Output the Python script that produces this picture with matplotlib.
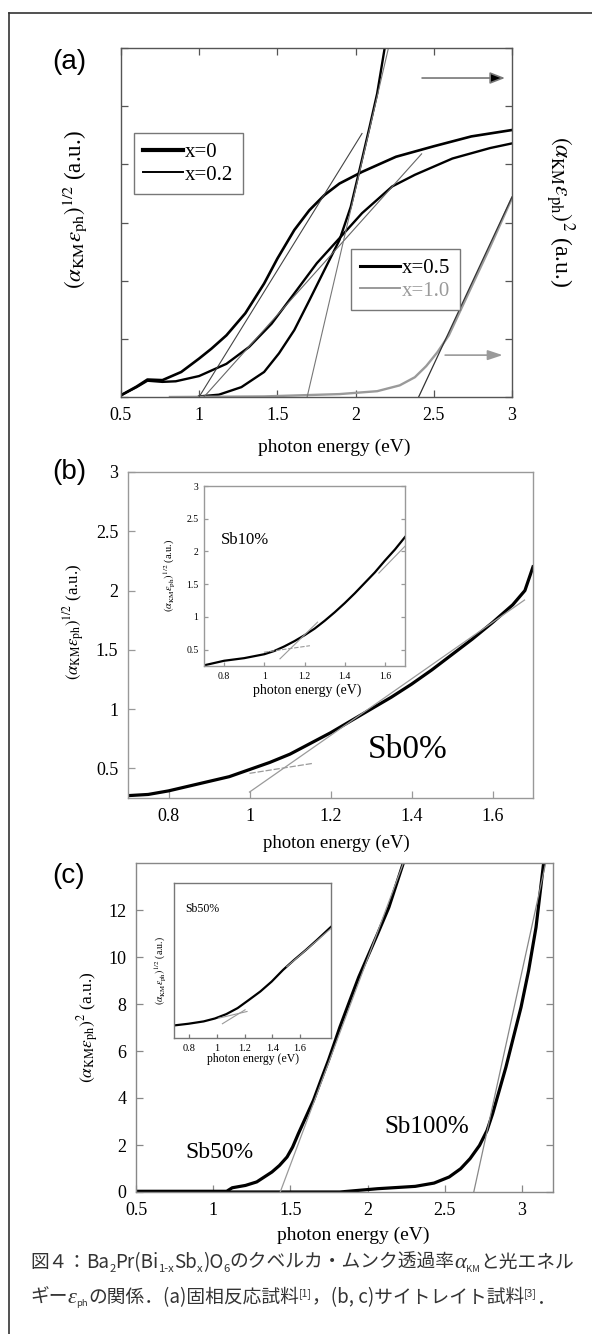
import matplotlib
matplotlib.use("Agg")
import matplotlib.pyplot as plt
from matplotlib.lines import Line2D
from matplotlib.ticker import FormatStrFormatter
from matplotlib.transforms import IdentityTransform

plt.rcParams["font.family"] = ["Liberation Serif", "DejaVu Serif"]
plt.rcParams["mathtext.fontset"] = "stix"
plt.rcParams["axes.unicode_minus"] = False

W, H = 592, 1334
CJK = ["Noto Sans CJK JP", "DejaVu Sans"]
GRAY = "#9a9a9a"

# ---- panel (a): four compositions, x = photon energy (eV) ----
a_x0 = [0.5, 0.6, 0.669, 0.765, 0.885, 0.999, 1.078, 1.174, 1.295, 1.415, 1.5, 1.608,
        1.704, 1.80, 1.897, 2.041, 2.258, 2.499, 2.74, 3.0]
a_y0 = [0.03, 0.18, 0.30, 0.29, 0.43, 0.66, 0.83, 1.06, 1.44, 1.95, 2.38, 2.87,
        3.21, 3.47, 3.67, 3.87, 4.13, 4.31, 4.48, 4.59]
a_x02 = [0.5, 0.6, 0.669, 0.765, 0.85, 0.999, 1.174, 1.319, 1.463, 1.608, 1.752, 1.897,
         2.041, 2.234, 2.379, 2.619, 2.86, 3.0]
a_y02 = [0.03, 0.17, 0.28, 0.26, 0.27, 0.36, 0.57, 0.86, 1.26, 1.78, 2.30, 2.73,
         3.16, 3.62, 3.82, 4.10, 4.28, 4.36]
a_x05 = [0.999, 1.126, 1.27, 1.415, 1.51, 1.608, 1.704, 1.80, 1.897, 1.969, 2.03,
         2.09, 2.138, 2.186]
a_y05 = [0.01, 0.04, 0.17, 0.43, 0.75, 1.15, 1.66, 2.18, 2.70, 3.27, 3.96,
         4.65, 5.22, 6.0]
a_x10 = [0.813, 1.415, 1.897, 2.138, 2.282, 2.379, 2.451, 2.523, 2.596, 2.74, 2.86, 3.0]
a_y10 = [0.0, 0.01, 0.05, 0.10, 0.20, 0.34, 0.53, 0.77, 1.06, 1.89, 2.58, 3.42]
# tangent (fit) lines: (x1, x2), (y1, y2)
a_fit0 = ([0.999, 2.041], [0.0, 4.53])
a_fit02 = ([1.03, 2.422], [0.0, 4.18])
a_fit05 = ([1.69, 2.21], [0.0, 6.0])
a_fit10 = ([2.403, 3.0], [0.0, 3.44])
a_xticks = [0.5, 1, 1.5, 2, 2.5, 3]

# ---- panel (b): Sb0% main, Sb10% inset ----
b_x = [0.70, 0.75, 0.80, 0.85, 0.90, 0.95, 1.0, 1.05, 1.10, 1.15, 1.20, 1.25,
       1.30, 1.35, 1.40, 1.45, 1.50, 1.55, 1.60, 1.65, 1.68, 1.70]
b_y = [0.27, 0.28, 0.31, 0.35, 0.39, 0.43, 0.49, 0.55, 0.62, 0.71, 0.80, 0.90,
       1.00, 1.10, 1.21, 1.33, 1.46, 1.59, 1.73, 1.88, 2.00, 2.20]
b_fit = ([1.0, 1.679], [0.30, 1.92])
b_base = ([1.0, 1.156], [0.458, 0.542])
bi_x = [0.70, 0.80, 0.90, 1.0, 1.05, 1.10, 1.15, 1.20, 1.25, 1.30, 1.35, 1.40,
        1.45, 1.50, 1.55, 1.60, 1.65, 1.70]
bi_y = [0.26, 0.33, 0.37, 0.43, 0.48, 0.55, 0.63, 0.72, 0.82, 0.94, 1.07, 1.21,
        1.36, 1.52, 1.68, 1.86, 2.03, 2.22]
bi_fit = ([1.078, 1.265], [0.36, 0.92])
bi_fit2 = ([1.57, 1.70], [1.67, 2.08])
bi_base = ([0.998, 1.227], [0.46, 0.56])

# ---- panel (c): Sb50% and Sb100% main, Sb50% inset ----
c_x50 = [0.5, 1.087, 1.123, 1.209, 1.282, 1.331, 1.38, 1.429, 1.478, 1.514, 1.551,
         1.6, 1.649, 1.697, 1.746, 1.783, 1.82, 1.881, 1.942, 2.003, 2.064, 2.137, 2.23]
c_y50 = [0.03, 0.03, 0.18, 0.28, 0.43, 0.64, 0.85, 1.13, 1.49, 1.91, 2.48,
         3.19, 3.90, 4.75, 5.60, 6.30, 7.01, 8.08, 9.14, 10.06, 10.98, 12.11, 13.98]
c_x100 = [0.5, 1.82, 2.064, 2.308, 2.43, 2.528, 2.602, 2.663, 2.724, 2.773, 2.809,
          2.846, 2.895, 2.944, 2.993, 3.042, 3.09, 3.139]
c_y100 = [0.0, 0.0, 0.14, 0.24, 0.38, 0.64, 0.99, 1.42, 1.98, 2.62, 3.33,
          4.18, 5.31, 6.59, 7.86, 9.42, 11.26, 13.98]
c_fit50 = ([1.434, 2.23], [0.0, 13.98])
c_fit100 = ([2.687, 3.152], [0.0, 13.98])
ci_x = [0.69, 0.795, 0.904, 0.986, 1.068, 1.15, 1.232, 1.314, 1.396, 1.478,
        1.56, 1.642, 1.723, 1.825]
ci_y = [0.081, 0.092, 0.107, 0.126, 0.154, 0.193, 0.246, 0.30, 0.364, 0.439,
        0.505, 0.567, 0.632, 0.717]
ci_fit = ([1.04, 1.204], [0.092, 0.182])
ci_base = ([1.013, 1.218], [0.128, 0.171])
ci_fit2 = ([1.505, 1.825], [0.46, 0.707])


def box(l, t, r, b):
    """native pixel box -> figure fraction rect"""
    return [l / W, 1 - b / H, (r - l) / W, (b - t) / H]


def fxy(x, y):
    return x / W, 1 - y / H


def style_ax(ax, color, size, sides):
    for s in ax.spines.values():
        s.set_color(color)
        s.set_linewidth(1.0)
    ax.tick_params(direction="in", colors="black", labelsize=size, length=5, width=0.9,
                   pad=7, **sides)
    ax.tick_params(color=color)
    ax.xaxis.set_major_formatter(FormatStrFormatter("%g"))
    ax.yaxis.set_major_formatter(FormatStrFormatter("%g"))


fig = plt.figure(figsize=(W / 100, H / 100), dpi=100)

# outer frame (left and top edges visible)
fig.add_artist(Line2D([9, 9], [H - 13, 0], transform=IdentityTransform(), color="#333", lw=1.2))
fig.add_artist(Line2D([9, W], [H - 13, H - 13], transform=IdentityTransform(), color="#333", lw=1.2))

# ================= (a) =================
ax = fig.add_axes(box(121, 48, 512, 397))
ax.plot(a_x0, a_y0, color="black", lw=1.9)
ax.plot(a_x02, a_y02, color="black", lw=1.7)
ax.plot(a_x05, a_y05, color="black", lw=1.7)
ax.plot(a_x10, a_y10, color=GRAY, lw=1.7)
ax.plot(*a_fit0, color="#444", lw=0.8)
ax.plot(*a_fit02, color="#666", lw=0.8)
ax.plot(*a_fit05, color="#777", lw=0.8)
ax.plot(*a_fit10, color="#333", lw=0.9)
ax.set_xlim(0.5, 3)
ax.set_ylim(0, 6)
ax.set_xticks(a_xticks)
ax.set_yticks(range(7))
style_ax(ax, "#555", 13, dict(top=True, right=True))
ax.set_yticklabels([])
leg1 = ax.legend([Line2D([], [], color="black", lw=3.0), Line2D([], [], color="black", lw=1.4)],
                 ["x=0", "x=0.2"], loc="upper left", bbox_to_anchor=fxy(134, 133),
                 bbox_transform=fig.transFigure, borderaxespad=0, fontsize=15, handlelength=1.9,
                 handletextpad=0.1, labelspacing=0.15, borderpad=0.45, fancybox=False,
                 framealpha=1, edgecolor="#777")
leg1.get_frame().set_linewidth(1.0)
ax.add_artist(leg1)
leg2 = ax.legend([Line2D([], [], color="black", lw=2.2), Line2D([], [], color=GRAY, lw=1.4)],
                 ["x=0.5", "x=1.0"], loc="upper left", bbox_to_anchor=fxy(351, 249),
                 bbox_transform=fig.transFigure, borderaxespad=0, fontsize=15, handlelength=1.9,
                 handletextpad=0.1, labelspacing=0.15, borderpad=0.45, fancybox=False,
                 framealpha=1, edgecolor="#777", labelcolor=["black", GRAY])
leg2.get_frame().set_linewidth(1.0)
ax.annotate("", xy=(0.982, 0.914), xytext=(0.77, 0.914), xycoords="axes fraction",
            arrowprops=dict(arrowstyle="-|>,head_length=0.9,head_width=0.35", color="#777",
                            lw=1.2, fc="black", ec="#777", shrinkA=0, shrinkB=0))
ax.annotate("", xy=(0.976, 0.12), xytext=(0.829, 0.12), xycoords="axes fraction",
            arrowprops=dict(arrowstyle="-|>,head_length=0.9,head_width=0.3", color=GRAY,
                            lw=1.2, shrinkA=0, shrinkB=0))
fig.text(*fxy(69, 62), "(a)", family="Liberation Sans", fontsize=20, ha="center", va="center")
fig.text(*fxy(75, 210), r"$(\alpha_{\rm KM}\varepsilon_{\rm ph})^{1/2}$ (a.u.)", fontsize=16.5,
         rotation=90, ha="center", va="center")
fig.text(*fxy(560, 212), r"$(\alpha_{\rm KM}\varepsilon_{\rm ph})^{2}$ (a.u.)", fontsize=17,
         rotation=-90, ha="center", va="center")
fig.text(*fxy(334, 447), "photon energy (eV)", fontsize=14, ha="center", va="center")

# ================= (b) =================
ax = fig.add_axes(box(128, 472, 533, 798))
ax.plot(b_x, b_y, color="black", lw=2.3)
ax.plot(*b_fit, color=GRAY, lw=0.9)
ax.plot(*b_base, color=GRAY, lw=0.9, ls=(0, (5, 1.5)))
ax.set_xlim(0.7, 1.7)
ax.set_ylim(0.25, 3)
ax.set_xticks([0.8, 1, 1.2, 1.4, 1.6])
ax.set_yticks([0.5, 1, 1.5, 2, 2.5, 3])
style_ax(ax, "#999", 13, dict(top=False, right=False))
fig.text(*fxy(408, 750), "Sb0%", fontsize=24, ha="center", va="center")
fig.text(*fxy(69, 472), "(b)", family="Liberation Sans", fontsize=20, ha="center", va="center")
fig.text(*fxy(74, 622), r"$(\alpha_{\rm KM}\varepsilon_{\rm ph})^{1/2}$ (a.u.)", fontsize=12,
         rotation=90, ha="center", va="center")
fig.text(*fxy(336, 843), "photon energy (eV)", fontsize=13.5, ha="center", va="center")

ax = fig.add_axes(box(204, 486, 405, 666))
ax.plot(bi_x, bi_y, color="black", lw=1.6)
ax.plot(*bi_fit, color=GRAY, lw=0.8)
ax.plot(*bi_fit2, color=GRAY, lw=0.8)
ax.plot(*bi_base, color=GRAY, lw=0.8, ls=(0, (4, 1.5)))
ax.set_xlim(0.7, 1.7)
ax.set_ylim(0.25, 3)
ax.set_xticks([0.8, 1, 1.2, 1.4, 1.6])
ax.set_yticks([0.5, 1, 1.5, 2, 2.5, 3])
style_ax(ax, "#999", 7, dict(top=False, right=True))
ax.tick_params(length=3, pad=4)
fig.text(*fxy(245, 540), "Sb10%", fontsize=12, ha="center", va="center")
fig.text(*fxy(169, 575), r"$(\alpha_{\rm KM}\varepsilon_{\rm ph})^{1/2}$ (a.u.)", fontsize=7.5,
         rotation=90, ha="center", va="center")
fig.text(*fxy(307, 690), "photon energy (eV)", fontsize=10, ha="center", va="center")

# ================= (c) =================
ax = fig.add_axes(box(136, 863, 553, 1192))
ax.plot(c_x50, c_y50, color="black", lw=2.3)
ax.plot(c_x100, c_y100, color="black", lw=2.3)
ax.plot(*c_fit50, color=GRAY, lw=0.9)
ax.plot(*c_fit100, color="#888", lw=0.9)
ax.set_xlim(0.5, 3.2)
ax.set_ylim(0, 14)
ax.set_xticks([0.5, 1, 1.5, 2, 2.5, 3])
ax.set_yticks([0, 2, 4, 6, 8, 10, 12])
style_ax(ax, "#888", 13, dict(top=False, right=True))
fig.text(*fxy(219, 1152), "Sb50%", fontsize=17, ha="center", va="center")
fig.text(*fxy(427, 1127), "Sb100%", fontsize=18, ha="center", va="center")
fig.text(*fxy(69, 876), "(c)", family="Liberation Sans", fontsize=20, ha="center", va="center")
fig.text(*fxy(88, 1027), r"$(\alpha_{\rm KM}\varepsilon_{\rm ph})^{2}$ (a.u.)", fontsize=12.5,
         rotation=90, ha="center", va="center")
fig.text(*fxy(353, 1235), "photon energy (eV)", fontsize=14, ha="center", va="center")

ax = fig.add_axes(box(174, 883, 331, 1038))
ax.plot(ci_x, ci_y, color="black", lw=1.6)
ax.plot(*ci_fit, color=GRAY, lw=0.8)
ax.plot(*ci_base, color=GRAY, lw=0.8)
ax.plot(*ci_fit2, color=GRAY, lw=0.8)
ax.set_xlim(0.69, 1.825)
ax.set_ylim(0, 1)
ax.set_xticks([0.8, 1, 1.2, 1.4, 1.6])
ax.set_yticks([])
style_ax(ax, "#777", 7.5, dict(top=False, right=False))
ax.tick_params(length=3, pad=4)
fig.text(*fxy(202, 909), "Sb50%", fontsize=8.5, ha="center", va="center")
fig.text(*fxy(160, 971), r"$(\alpha_{\rm KM}\varepsilon_{\rm ph})^{1/2}$ (a.u.)", fontsize=7,
         rotation=90, ha="center", va="center")
fig.text(*fxy(253, 1059), "photon energy (eV)", fontsize=8.5, ha="center", va="center")

# ================= caption =================
renderer = fig.canvas.get_renderer()
CAP = 13.5
SUB, SUP = -3.5, 7.0
ITA = ["Liberation Serif"]
cap1 = [("図４：", 1, 0, CJK, "normal"), ("Ba", 1, 0, CJK, "normal"), ("2", .6, SUB, CJK, "normal"),
        ("Pr(Bi", 1, 0, CJK, "normal"), ("1-x", .6, SUB, CJK, "normal"), ("Sb", 1, 0, CJK, "normal"),
        ("x", .6, SUB, CJK, "normal"), (")O", 1, 0, CJK, "normal"), ("6", .6, SUB, CJK, "normal"),
        ("のクベルカ・ムンク透過率", 1, 0, CJK, "normal"), ("α", 1.2, 0, ITA, "italic"),
        ("KM", .5, SUB, CJK, "normal"), ("と光エネル", 1, 0, CJK, "normal")]
cap2 = [("ギー", 1, 0, CJK, "normal"), ("ε", 1.2, 0, ITA, "italic"), ("ph", .5, SUB, CJK, "normal"),
        ("の関係．(a)固相反応試料", 1, 0, CJK, "normal"), ("[1]", .55, SUP, CJK, "normal"),
        ("，(b, c)サイトレイト試料", 1, 0, CJK, "normal"), ("[3]", .55, SUP, CJK, "normal"),
        ("．", 1, 0, CJK, "normal")]


def put_runs(x0, y0, runs):
    x = x0
    for s, scale, dy, fam, st in runs:
        t = fig.text(x, H - y0 + dy, s, transform=IdentityTransform(), fontsize=CAP * scale,
                     family=fam, style=st, color="#333", ha="left", va="baseline")
        x += t.get_window_extent(renderer).width


put_runs(30, 1268, cap1)
put_runs(30, 1303, cap2)

fig.savefig("out.png", dpi=100)
